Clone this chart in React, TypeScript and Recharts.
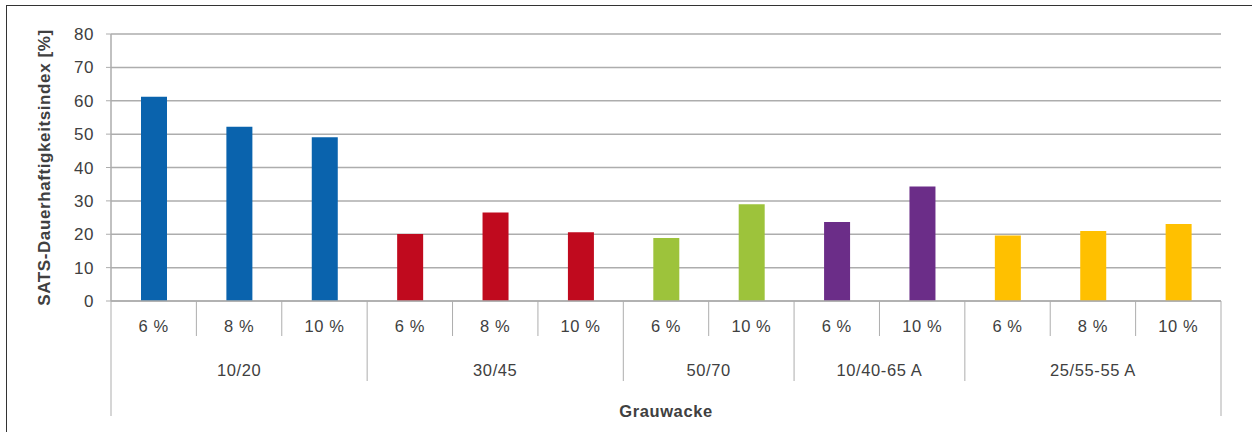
import React from "react";
import { BarChart, Bar, XAxis, YAxis, CartesianGrid, Cell } from "recharts";

const categories = ["6 %", "8 %", "10 %", "6 %", "8 %", "10 %", "6 %", "10 %", "6 %", "10 %", "6 %", "8 %", "10 %"];
const groups = ["10/20", "30/45", "50/70", "10/40-65 A", "25/55-55 A"];
const groupSizes = [3, 3, 2, 2, 3];
const groupColors = ["#0A63AD", "#C00A1E", "#9DC33B", "#6B2D88", "#FFC000"];
const values = [61.2, 52.2, 49.1, 20.1, 26.5, 20.6, 18.9, 29.0, 23.7, 34.3, 19.6, 21.0, 23.1];
const yTicks = [0, 10, 20, 30, 40, 50, 60, 70, 80];

const groupOf: number[] = [];
groupSizes.forEach((n, g) => {
  for (let i = 0; i < n; i++) groupOf.push(g);
});
const groupStart: number[] = [];
groupSizes.reduce((acc, n) => {
  groupStart.push(acc);
  return acc + n;
}, 0);

const data = categories.map((c, i) => ({
  key: String(i),
  label: c,
  value: values[i],
  fill: groupColors[groupOf[i]],
}));

const TEXT = "#404040";
const LINE = "#adadad";
const FONT = "'Liberation Sans', Arial, sans-serif";

const XTick = (props: any) => {
  const { x, y, payload } = props;
  const i = Number(payload.value);
  const half = payload.offset ?? 42.7;
  const band = half * 2;
  const top = y - 8;
  const left = x - half;
  const right = x + half;
  const g = groupOf[i];
  const isGroupEnd = i === groupStart[g] + groupSizes[g] - 1;
  const isLast = i === categories.length - 1;
  const out: React.ReactNode[] = [];
  out.push(
    <text key="l" x={x} y={top + 31} textAnchor="middle" fontSize={16.5} letterSpacing={0.6} fill={TEXT} fontFamily={FONT}>
      {categories[i]}
    </text>
  );
  const endY = isLast ? top + 115 : isGroupEnd ? top + 80 : top + 35;
  out.push(<line key="r" x1={right} x2={right} y1={top} y2={endY} stroke={LINE} />);
  if (i === groupStart[g]) {
    const cx = left + (groupSizes[g] * band) / 2;
    out.push(
      <text key="g" x={cx} y={top + 75} textAnchor="middle" fontSize={16.5} letterSpacing={0.6} fill={TEXT} fontFamily={FONT}>
        {groups[g]}
      </text>
    );
  }
  if (i === 0) {
    out.push(<line key="L" x1={left} x2={left} y1={top} y2={top + 115} stroke={LINE} />);
    const cx = left + (categories.length * band) / 2;
    out.push(
      <text key="t" x={cx} y={top + 116} textAnchor="middle" fontSize={16.5} letterSpacing={0.6} fontWeight="bold" fill={TEXT} fontFamily={FONT}>
        Grauwacke
      </text>
    );
  }
  return <g>{out}</g>;
};

export default function App() {
  return (
    <div style={{ position: "absolute", left: 0, top: 0, width: 1252, height: 432, background: "#fff", overflow: "hidden" }}>
      <div style={{ position: "absolute", left: 6, top: 5, width: 1300, height: 500, borderTop: "1px solid #333", borderLeft: "1px solid #333" }} />
      <BarChart
        width={1252}
        height={432}
        data={data}
        margin={{ top: 34, right: 31, left: 0, bottom: 0 }}
        barCategoryGap={30}
        style={{ position: "absolute", left: 0, top: 0 }}
      >
        <CartesianGrid vertical={false} stroke={LINE} strokeWidth={1.5} />
        <XAxis
          dataKey="key"
          height={131}
          interval={0}
          axisLine={{ stroke: LINE, strokeWidth: 1.5 }}
          tickLine={false}
          tick={<XTick />}
        />
        <YAxis
          width={111}
          domain={[0, 80]}
          ticks={yTicks}
          interval={0}
          axisLine={{ stroke: LINE, strokeWidth: 1.5 }}
          tickLine={{ stroke: LINE }}
          tickSize={5}
          tickMargin={12}
          tick={{ fill: TEXT, fontSize: 17, letterSpacing: 0.5, fontFamily: FONT }}
          label={{
            value: "SATS-Dauerhaftigkeitsindex [%]",
            angle: -90,
            position: "insideLeft",
            offset: 44,
            style: { fill: TEXT, fontSize: 17, letterSpacing: 0.6, fontWeight: "bold", fontFamily: FONT, textAnchor: "middle" },
          }}
        />
        <Bar dataKey="value" barSize={26} isAnimationActive={false}>
          {data.map((d, i) => (
            <Cell key={i} fill={d.fill} />
          ))}
        </Bar>
      </BarChart>
    </div>
  );
}
